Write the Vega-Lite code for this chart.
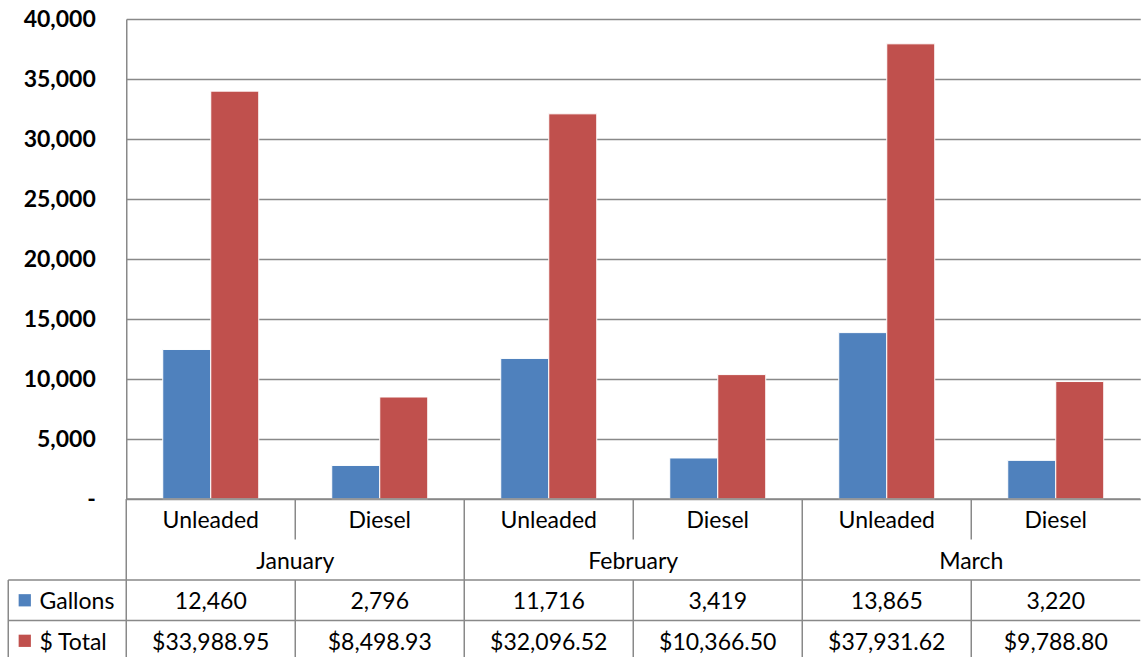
{
  "$schema": "https://vega.github.io/schema/vega-lite/v6.json",
  "padding": {"left": 7.25, "top": 8, "right": 0, "bottom": 0},
  "config": {
    "view": {"stroke": null},
    "font": "Lato",
    "text": {"font": "Lato", "fontSize": 23, "color": "#000000", "dy": 2}
  },
  "datasets": {
    "fuel": [
      {"month": "January", "fuel": "Unleaded", "cat": "January Unleaded", "gallons": 12460, "total": 33988.95},
      {"month": "January", "fuel": "Diesel", "cat": "January Diesel", "gallons": 2796, "total": 8498.93},
      {"month": "February", "fuel": "Unleaded", "cat": "February Unleaded", "gallons": 11716, "total": 32096.52},
      {"month": "February", "fuel": "Diesel", "cat": "February Diesel", "gallons": 3419, "total": 10366.50},
      {"month": "March", "fuel": "Unleaded", "cat": "March Unleaded", "gallons": 13865, "total": 37931.62},
      {"month": "March", "fuel": "Diesel", "cat": "March Diesel", "gallons": 3220, "total": 9788.80}
    ],
    "series": [
      {"series": "gallons", "label": "Gallons"},
      {"series": "total", "label": "$ Total"}
    ]
  },
  "columns": 2,
  "spacing": 0,
  "bounds": "flush",
  "concat": [
    {
      "width": 118,
      "height": 480,
      "data": {"values": [{}]},
      "mark": {"type": "text"},
      "encoding": {"text": {"value": ""}}
    },
    {
      "width": 1014,
      "height": 480,
      "data": {"name": "fuel"},
      "transform": [{"fold": ["gallons", "total"], "as": ["series", "value"]}],
      "mark": {"type": "bar", "stroke": "white", "strokeWidth": 1},
      "encoding": {
        "x": {"field": "cat", "type": "nominal", "sort": null, "scale": {"paddingInner": 0, "paddingOuter": 0}, "axis": null},
        "xOffset": {"field": "series", "type": "nominal", "scale": {"paddingInner": 0, "paddingOuter": 0.76}},
        "y": {
          "field": "value", "type": "quantitative",
          "scale": {"domain": [0, 40000], "nice": false},
          "axis": {
            "values": [0, 5000, 10000, 15000, 20000, 25000, 30000, 35000, 40000],
            "labelExpr": "datum.value == 0 ? '-' : format(datum.value, ',')",
            "title": null,
            "ticks": false,
            "labelPadding": 31,
            "labelFont": "Lato",
            "labelFontSize": 23,
            "labelFontWeight": "bold",
            "labelColor": "#000000",
            "grid": true,
            "gridColor": "#898989",
            "gridWidth": 1.5,
            "domainColor": "#898989",
            "domainWidth": 1.5
          }
        },
        "color": {"field": "series", "type": "nominal", "scale": {"domain": ["gallons", "total"], "range": ["#4F81BD", "#C0504D"]}, "legend": null}
      }
    },
    {
      "width": 118,
      "height": 158,
      "data": {"name": "series"},
      "layer": [
        {
          "data": {"values": [{}]},
          "mark": {"type": "rule", "color": "#898989", "strokeWidth": 1.5},
          "encoding": {
            "x": {"datum": 0, "type": "quantitative", "scale": {"domain": [0, 1], "nice": false, "zero": false}, "axis": null},
            "y": {"datum": 2, "type": "quantitative", "scale": {"domain": [0, 3.9], "reverse": true, "nice": false, "zero": false}, "axis": null},
            "y2": {"datum": 3.9}
          }
        },
        {
          "data": {"values": [{}]},
          "mark": {"type": "rule", "color": "#898989", "strokeWidth": 1.5},
          "encoding": {
            "y": {"datum": 2, "type": "quantitative", "scale": {"domain": [0, 3.9], "reverse": true, "nice": false, "zero": false}, "axis": null}
          }
        },
        {
          "data": {"values": [{}]},
          "mark": {"type": "rule", "color": "#898989", "strokeWidth": 1.5},
          "encoding": {
            "y": {"datum": 3, "type": "quantitative", "scale": {"domain": [0, 3.9], "reverse": true, "nice": false, "zero": false}, "axis": null}
          }
        },
        {
          "transform": [{"filter": "datum.series == 'gallons'"}],
          "mark": {"type": "point", "shape": "square", "filled": true, "size": 150, "opacity": 1},
          "encoding": {
            "x": {"datum": 0.14, "type": "quantitative", "scale": {"domain": [0, 1], "nice": false, "zero": false}, "axis": null},
            "y": {"datum": 2.5, "type": "quantitative", "scale": {"domain": [0, 3.9], "reverse": true, "nice": false, "zero": false}, "axis": null},
            "color": {"field": "series", "type": "nominal", "scale": {"domain": ["gallons", "total"], "range": ["#4F81BD", "#C0504D"]}, "legend": null}
          }
        },
        {
          "transform": [{"filter": "datum.series == 'total'"}],
          "mark": {"type": "point", "shape": "square", "filled": true, "size": 150, "opacity": 1},
          "encoding": {
            "x": {"datum": 0.14, "type": "quantitative", "scale": {"domain": [0, 1], "nice": false, "zero": false}, "axis": null},
            "y": {"datum": 3.5, "type": "quantitative", "scale": {"domain": [0, 3.9], "reverse": true, "nice": false, "zero": false}, "axis": null},
            "color": {"field": "series", "type": "nominal", "scale": {"domain": ["gallons", "total"], "range": ["#4F81BD", "#C0504D"]}, "legend": null}
          }
        },
        {
          "transform": [{"filter": "datum.series == 'gallons'"}],
          "mark": {"type": "text", "align": "left"},
          "encoding": {
            "x": {"datum": 0.265, "type": "quantitative", "scale": {"domain": [0, 1], "nice": false, "zero": false}, "axis": null},
            "y": {"datum": 2.5, "type": "quantitative", "scale": {"domain": [0, 3.9], "reverse": true, "nice": false, "zero": false}, "axis": null},
            "text": {"field": "label", "type": "nominal"}
          }
        },
        {
          "transform": [{"filter": "datum.series == 'total'"}],
          "mark": {"type": "text", "align": "left"},
          "encoding": {
            "x": {"datum": 0.265, "type": "quantitative", "scale": {"domain": [0, 1], "nice": false, "zero": false}, "axis": null},
            "y": {"datum": 3.5, "type": "quantitative", "scale": {"domain": [0, 3.9], "reverse": true, "nice": false, "zero": false}, "axis": null},
            "text": {"field": "label", "type": "nominal"}
          }
        }
      ]
    },
    {
      "width": 1014,
      "height": 158,
      "data": {"name": "fuel"},
      "layer": [
        {
          "data": {"values": [{}]},
          "mark": {"type": "rule", "color": "#898989", "strokeWidth": 1.5},
          "encoding": {
            "y": {"datum": 0, "type": "quantitative", "scale": {"domain": [0, 3.9], "reverse": true, "nice": false, "zero": false}, "axis": null}
          }
        },
        {
          "data": {"values": [{}]},
          "mark": {"type": "rule", "color": "#898989", "strokeWidth": 1.5},
          "encoding": {
            "y": {"datum": 2, "type": "quantitative", "scale": {"domain": [0, 3.9], "reverse": true, "nice": false, "zero": false}, "axis": null}
          }
        },
        {
          "data": {"values": [{}]},
          "mark": {"type": "rule", "color": "#898989", "strokeWidth": 1.5},
          "encoding": {
            "y": {"datum": 3, "type": "quantitative", "scale": {"domain": [0, 3.9], "reverse": true, "nice": false, "zero": false}, "axis": null}
          }
        },
        {
          "mark": {"type": "rule", "color": "#898989", "strokeWidth": 1.5},
          "encoding": {
            "x": {"field": "cat", "type": "nominal", "sort": null, "bandPosition": 0, "scale": {"paddingInner": 0, "paddingOuter": 0}, "axis": null},
            "y": {"datum": 2, "type": "quantitative", "scale": {"domain": [0, 3.9], "reverse": true, "nice": false, "zero": false}, "axis": null},
            "y2": {"datum": 3.9}
          }
        },
        {
          "transform": [{"filter": "datum.fuel == 'Unleaded'"}],
          "mark": {"type": "rule", "color": "#898989", "strokeWidth": 1.5},
          "encoding": {
            "x": {"field": "cat", "type": "nominal", "sort": null, "bandPosition": 0, "scale": {"paddingInner": 0, "paddingOuter": 0}, "axis": null},
            "y": {"datum": 0, "type": "quantitative", "scale": {"domain": [0, 3.9], "reverse": true, "nice": false, "zero": false}, "axis": null},
            "y2": {"datum": 2}
          }
        },
        {
          "transform": [{"filter": "datum.fuel == 'Diesel'"}],
          "mark": {"type": "rule", "color": "#898989", "strokeWidth": 1.5},
          "encoding": {
            "x": {"field": "cat", "type": "nominal", "sort": null, "bandPosition": 0, "scale": {"paddingInner": 0, "paddingOuter": 0}, "axis": null},
            "y": {"datum": 0, "type": "quantitative", "scale": {"domain": [0, 3.9], "reverse": true, "nice": false, "zero": false}, "axis": null},
            "y2": {"datum": 1}
          }
        },
        {
          "mark": {"type": "text"},
          "encoding": {
            "x": {"field": "cat", "type": "nominal", "sort": null, "scale": {"paddingInner": 0, "paddingOuter": 0}, "axis": null},
            "y": {"datum": 0.5, "type": "quantitative", "scale": {"domain": [0, 3.9], "reverse": true, "nice": false, "zero": false}, "axis": null},
            "text": {"field": "fuel", "type": "nominal"}
          }
        },
        {
          "transform": [{"filter": "datum.fuel == 'Unleaded'"}],
          "mark": {"type": "text"},
          "encoding": {
            "x": {"field": "cat", "type": "nominal", "sort": null, "bandPosition": 1, "scale": {"paddingInner": 0, "paddingOuter": 0}, "axis": null},
            "y": {"datum": 1.5, "type": "quantitative", "scale": {"domain": [0, 3.9], "reverse": true, "nice": false, "zero": false}, "axis": null},
            "text": {"field": "month", "type": "nominal"}
          }
        },
        {
          "mark": {"type": "text"},
          "encoding": {
            "x": {"field": "cat", "type": "nominal", "sort": null, "scale": {"paddingInner": 0, "paddingOuter": 0}, "axis": null},
            "y": {"datum": 2.5, "type": "quantitative", "scale": {"domain": [0, 3.9], "reverse": true, "nice": false, "zero": false}, "axis": null},
            "text": {"field": "gallons", "type": "quantitative", "format": ","}
          }
        },
        {
          "mark": {"type": "text"},
          "encoding": {
            "x": {"field": "cat", "type": "nominal", "sort": null, "scale": {"paddingInner": 0, "paddingOuter": 0}, "axis": null},
            "y": {"datum": 3.5, "type": "quantitative", "scale": {"domain": [0, 3.9], "reverse": true, "nice": false, "zero": false}, "axis": null},
            "text": {"field": "total", "type": "quantitative", "format": "$,.2f"}
          }
        }
      ]
    }
  ]
}
